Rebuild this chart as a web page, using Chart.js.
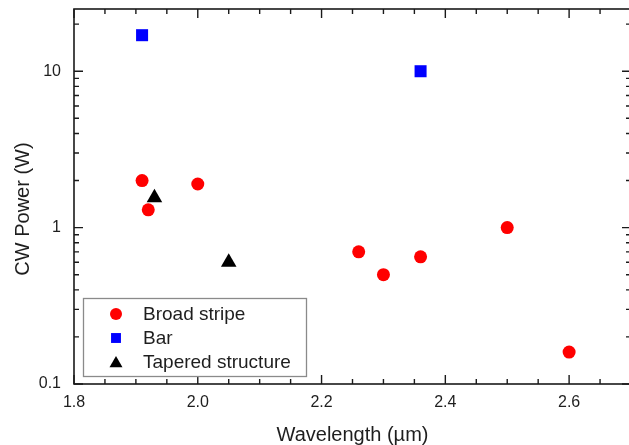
<!DOCTYPE html>
<html>
<head>
<meta charset="utf-8">
<script src="https://cdn.jsdelivr.net/npm/chart.js@4"></script>
<style>
  html, body { margin: 0; padding: 0; overflow: hidden; background: #fff; }
  #clip { width: 629px; height: 445px; overflow: hidden; position: relative; }
  canvas { display: block; }
</style>
</head>
<body>
<div id="clip"><canvas id="chart" width="640" height="445"></canvas></div>
<script>
// data
const broadX = [1.91, 1.92, 2.00, 2.26, 2.30, 2.36, 2.50, 2.60];
const broadY = [2.0, 1.3, 1.9, 0.7, 0.5, 0.65, 1.0, 0.16];
const barX = [1.91, 2.36];
const barY = [17, 10];
const taperX = [1.93, 2.05];
const taperY = [1.55, 0.6];

const seriesNames = ['Broad stripe', 'Bar', 'Tapered structure'];

// ticks
const xMajor = [1.8, 2.0, 2.2, 2.4, 2.6];
const xMinor = [1.85, 1.9, 1.95, 2.05, 2.1, 2.15, 2.25, 2.3, 2.35, 2.45, 2.5, 2.55, 2.65];
const yMajor = [0.1, 1, 10];
const yMinor = [0.2, 0.3, 0.4, 0.5, 0.6, 0.7, 0.8, 0.9, 2, 3, 4, 5, 6, 7, 8, 9, 20];

const FONT = '"Liberation Sans", Arial, sans-serif';
const TXT = '#1e1e1e';

function pts(xs, ys) {
  return xs.map((v, i) => ({ x: v, y: ys[i] }));
}

const datasets = [
  { label: seriesNames[0], data: pts(broadX, broadY), pointStyle: 'circle', pointRadius: 6.5,
    backgroundColor: '#ff0000', borderColor: '#ff0000', borderWidth: 0 },
  { label: seriesNames[1], data: pts(barX, barY), pointStyle: 'rect', pointRadius: 8.5,
    backgroundColor: '#0000ff', borderColor: '#0000ff', borderWidth: 0 },
  { label: seriesNames[2], data: pts(taperX, taperY), pointStyle: 'triangle', pointRadius: 9,
    backgroundColor: '#000000', borderColor: '#000000', borderWidth: 0 }
];

// frame, inward ticks, titles and the boxed legend
const framePlugin = {
  id: 'frame',
  afterDraw(chart) {
    const { ctx, chartArea: a, scales } = chart;
    const x = scales.x, y = scales.y;
    ctx.save();
    ctx.strokeStyle = '#1a1a1a';
    ctx.lineWidth = 1.6;
    ctx.strokeRect(a.left, a.top, a.right - a.left, a.bottom - a.top);

    ctx.lineWidth = 1.4;
    ctx.beginPath();
    const tickX = (vals, len) => vals.forEach(v => {
      const px = x.getPixelForValue(v);
      ctx.moveTo(px, a.bottom); ctx.lineTo(px, a.bottom - len);
      ctx.moveTo(px, a.top); ctx.lineTo(px, a.top + len);
    });
    const tickY = (vals, len) => vals.forEach(v => {
      const py = y.getPixelForValue(v);
      ctx.moveTo(a.left, py); ctx.lineTo(a.left + len, py);
      ctx.moveTo(a.right, py); ctx.lineTo(a.right - len, py);
    });
    tickX(xMajor, 9); tickX(xMinor, 5);
    tickY(yMajor, 9); tickY(yMinor, 5);
    ctx.stroke();

    // axis titles
    ctx.fillStyle = TXT;
    ctx.font = '20px ' + FONT;
    ctx.textAlign = 'center';
    ctx.textBaseline = 'middle';
    ctx.fillText('Wavelength (\u00b5m)', (a.left + a.right) / 2, 435);
    ctx.translate(23, 209);
    ctx.rotate(-Math.PI / 2);
    ctx.fillText('CW Power (W)', 0, 0);
    ctx.restore();

    // legend
    ctx.save();
    ctx.fillStyle = '#fff';
    ctx.fillRect(83.5, 298.5, 223, 78);
    ctx.strokeStyle = '#8a8a8a';
    ctx.lineWidth = 1.3;
    ctx.strokeRect(83.5, 298.5, 223, 78);
    const rows = [314, 338, 361.5];
    const sizes = [6, 7, 7.5];
    chart.data.datasets.forEach((ds, i) => {
      ctx.fillStyle = ds.backgroundColor;
      ctx.strokeStyle = ds.borderColor;
      Chart.helpers.drawPoint(ctx, { pointStyle: ds.pointStyle, radius: sizes[i], rotation: 0, borderWidth: 0 },
        116, rows[i] + (ds.pointStyle === 'triangle' ? 2 : 0));
      ctx.fillStyle = TXT;
      ctx.font = '19px ' + FONT;
      ctx.textAlign = 'left';
      ctx.textBaseline = 'middle';
      ctx.fillText(ds.label, 143, rows[i] + 1);
    });
    ctx.restore();
  }
};

new Chart(document.getElementById('chart'), {
  type: 'scatter',
  data: { datasets: datasets },
  options: {
    responsive: false,
    animation: false,
    events: [],
    layout: { padding: { left: 0, top: 9, right: 3, bottom: 0 } },
    plugins: { legend: { display: false }, tooltip: { enabled: false } },
    scales: {
      x: {
        type: 'linear',
        min: 1.8, max: 2.7,
        grid: { display: false, drawTicks: false },
        border: { display: false },
        afterBuildTicks: s => { s.ticks = xMajor.map(v => ({ value: v })); },
        afterFit: s => { s.height = 61; s.paddingLeft = 0; s.paddingRight = 0; },
        ticks: {
          padding: 9,
          color: TXT,
          font: { family: FONT, size: 16 },
          callback: v => Number(v).toFixed(1)
        }
      },
      y: {
        type: 'logarithmic',
        min: 0.1, max: 25,
        grid: { display: false, drawTicks: false },
        border: { display: false },
        afterBuildTicks: s => { s.ticks = yMajor.map(v => ({ value: v })); },
        afterFit: s => { s.width = 74; s.paddingTop = 0; s.paddingBottom = 0; },
        ticks: {
          padding: 13,
          color: TXT,
          font: { family: FONT, size: 16 },
          callback: v => String(v)
        }
      }
    }
  },
  plugins: [framePlugin]
});
</script>
</body>
</html>
